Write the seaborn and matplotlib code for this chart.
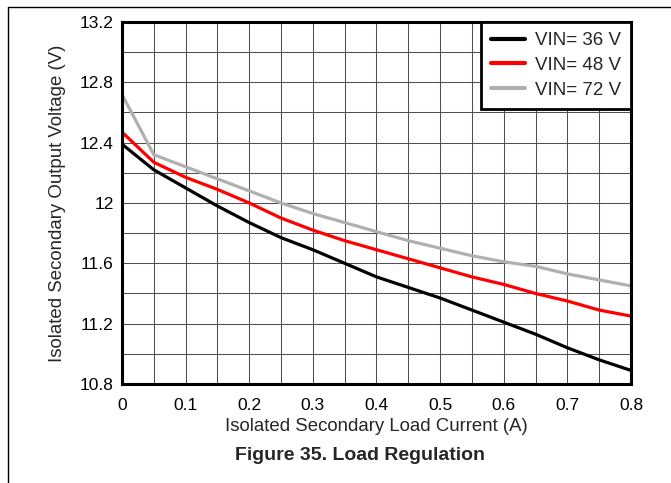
import matplotlib

matplotlib.use('Agg')
import matplotlib.pyplot as plt
import numpy as np
import pandas as pd
import seaborn as sns

# load current (A), sampled every 50 mA
current = [0.0, 0.05, 0.1, 0.15, 0.2, 0.25, 0.3, 0.35, 0.4,
           0.45, 0.5, 0.55, 0.6, 0.65, 0.7, 0.75, 0.8]

# output voltage (V) per input voltage
v_36 = [12.39, 12.22, 12.10, 11.98, 11.87, 11.77, 11.69, 11.60, 11.51,
        11.44, 11.37, 11.29, 11.21, 11.13, 11.04, 10.96, 10.89]
v_48 = [12.47, 12.27, 12.17, 12.09, 12.00, 11.90, 11.82, 11.75, 11.69,
        11.63, 11.57, 11.51, 11.46, 11.40, 11.35, 11.29, 11.25]
v_72 = [12.72, 12.32, 12.24, 12.16, 12.08, 12.00, 11.93, 11.87, 11.81,
        11.75, 11.70, 11.65, 11.61, 11.58, 11.53, 11.49, 11.45]

labels = ['VIN= 36 V', 'VIN= 48 V', 'VIN= 72 V']
colors = ['#000000', '#ff0000', '#b0b0b0']

x_ticks = [0, 0.1, 0.2, 0.3, 0.4, 0.5, 0.6, 0.7, 0.8]
x_tick_labels = ['0', '0.1', '0.2', '0.3', '0.4', '0.5', '0.6', '0.7', '0.8']
y_ticks = [10.8, 11.2, 11.6, 12.0, 12.4, 12.8, 13.2]
y_tick_labels = ['10.8', '11.2', '11.6', '12', '12.4', '12.8', '13.2']

df = pd.concat([pd.DataFrame({'current': current, 'voltage': v, 'vin': lab})
                for v, lab in zip([v_36, v_48, v_72], labels)])

sns.set_style('white')
plt.rcParams['font.family'] = ['Liberation Sans', 'DejaVu Sans']

fig = plt.figure(figsize=(6.71, 4.83), dpi=100)
ax = fig.add_axes([0.1818, 0.205, 0.7586, 0.7495])

sns.lineplot(data=df, x='current', y='voltage', hue='vin', hue_order=labels,
             palette=dict(zip(labels, colors)), linewidth=2.3, ax=ax,
             estimator=None, sort=False)

ax.set_xlim(0, 0.8)
ax.set_ylim(10.8, 13.2)
ax.set_xticks(np.arange(0, 0.8001, 0.05), minor=True)
ax.set_yticks(np.arange(10.8, 13.2001, 0.2), minor=True)
ax.set_xticks(x_ticks, x_tick_labels)
ax.set_yticks(y_ticks, y_tick_labels)
ax.grid(which='both', color='#505050', linewidth=0.75)
ax.tick_params(which='both', length=0, labelsize=12.5, colors='black')
ax.tick_params(axis='x', pad=10)
ax.tick_params(axis='y', pad=6)
for s in ax.spines.values():
    s.set_linewidth(2.2)
    s.set_color('black')

ax.set_xlabel('Isolated Secondary Load Current (A)', fontsize=13.4, labelpad=4)
ax.set_ylabel('Isolated Secondary Output Voltage (V)', fontsize=13.4)
ax.yaxis.set_label_coords(-0.11, 0.5)

leg = ax.legend(loc='upper right', fontsize=13.5, frameon=True, fancybox=False,
                borderaxespad=0, handlelength=1.8, borderpad=0.55,
                labelspacing=0.4, handletextpad=0.5)
leg.get_frame().set_edgecolor('black')
leg.get_frame().set_linewidth(2.0)
leg.get_frame().set_alpha(1)
for line in leg.get_lines():
    line.set_linewidth(3)

fig.text(0.537, 0.056, 'Figure 35. Load Regulation', ha='center', va='center',
         fontsize=14, fontweight='bold')

# page frame lines (top and left)
fig.add_artist(plt.Line2D([8 / 671, 1], [1 - 7 / 483, 1 - 7 / 483], color='black', lw=1))
fig.add_artist(plt.Line2D([8 / 671, 8 / 671], [0, 1 - 7 / 483], color='black', lw=1))

fig.savefig('out.png', dpi=100)
